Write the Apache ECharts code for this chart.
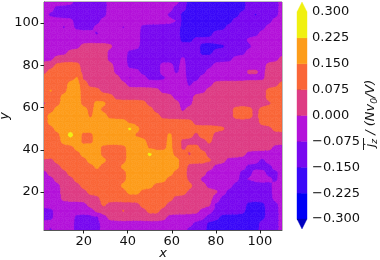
<!DOCTYPE html>
<html><head><meta charset="utf-8">
<style>html,body{margin:0;padding:0;background:#fff}#c{width:380px;height:260px}</style>
<script src="https://cdn.jsdelivr.net/npm/echarts@6/dist/echarts.min.js"></script>
</head><body><div id="c"></div>
<script>
const xs=[2,5,8,11,14,17,20,23,26,29,32,35,38,41,44,47,50,53,56,59,62,65,68,71,74,77,80,83,86,89,92,95,98,101,104,107,110];
const ys=[110,107,104,101,98,95,92,89,86,83,80,77,74,71,68,65,62,59,56,53,50,47,44,41,38,35,32,29,26,23,20,17,14,11,8,5,2];
// value read for each grid point, by colour band, one string per y
const bandValue={B:-.19,V:-.11,P:-.04,M:.04,R:.11,O:.19,Y:.29};
const bandRows=[
"PPPPPVVVVVPPPPPPPPPPPVBBBBBBBBBVVVVVP",
"PPVVVVVVVVPPPPPPPPPPVVBBBBBBBBBVVVVVP",
"PVVVVVVVVVPPPPPPPPPVVBBBBBBBBBVVBVVVP",
"PPPPPVVVVPPPPPPPPPPPPBBBBBBBBVVVVVVPP",
"PPPVPVVVPPPPVPPVVVVVVBBBBBBBVVVVVVPPP",
"PPPPPPPPVPPPPPPVVVVVVBBBBBVVVVVVVPPPP",
"PPPPPPPPPPPPPPPVVVVVVBBVVVVVVVVPPPPPP",
"PPPPPPMMMMMPPPPVVVVVVVVVBBBBVVVVPPPPP",
"PPPPMMMMMMPPPVVVVVVVVVVVBBVVVVVPPPPPP",
"PPMMMMMMMMPPPVVVVVVVVPVVVVVVVPPPPPPPM",
"MMRRRRMMMMMPPVVVVVPPVPVVVVPPPPPPPPMMM",
"MRRRRRMMMMMPPPPVVVPPVPVVVPPPPPPMMPMMM",
"RRRRROMMMMMMPVPPVVVPPPVVPPPPPPPPPPMMM",
"RRRROORMMMMMMPPPPPPPPPVPPPMMMMMMMMMMR",
"RORROORRRMMMMMMMMMPPPPPPPMMMMMMMMMRRR",
"RRROOORRRRRMMMMMMMMMPPPMMMMMMMMMMMRRR",
"MRROOORROORRRRRRMMMMMPPMMMMMMMMMMMMRR",
"RROOOOORORRRRRRRRMMMMPMMMMMMMRRRMRRRR",
"ROOOOOOROORRRRRRRRMMMMMMMMMMMRRRMRRRR",
"ROOOOOOOOOOOORRRRRRRRRRMMMMMMMMMMRRRR",
"RROOOOOOOOOOOYORRRRRRRRRRRRRMMMMMMMRR",
"RRROYORROOOOOORRRRRORRRMRRMMMMMMMMMMM",
"RRROOORROOOOOOOORRRORMMMMRMMMMMMMMMMM",
"RRRRROOOORRRROOORRRORMRRMMMMMMMMMMMPP",
"ORRRRROOORRRROOOYOOORRMRRMMMMMMPPPPPP",
"MMRRRRROOORRROOOOOOOORRRRRMMPPPPPVPPP",
"MMMRRRRRORRROOOOOOOOORMMMMPPPPPVVVVPP",
"PMMMRRRRRRRRROOOOOOORRMMMPPPPPVVPPVVP",
"PPMMMRRRRRRRROOOOOORRRMMPPPPPPVPPPPVP",
"PPPMMMRRRRRROOOOORRRRORMMPPPPVVBVVVPP",
"PPPMMMMRRRRRROORRRRRRRMMMMMPVVVVVVVPP",
"PPPMMMMMMRRRRRRRRRRRMMMMMMPVVVVVVVVPP",
"PPPPPPPMMRMMMMMRRRRMMMMMMMVVVVVBBBVVP",
"VVPPPPPPMMMMRMMMRRMMMMMMPPVVVVVBBBVVP",
"VVPPPVVVVPMMMMMMMMMPPPPPPVVBBBBBBBVVP",
"PPPPPVVVVPPPPPPPPPPPPPPVVBBBBBBBBVVVP",
"PVPPPVVVVPPPPPPPPPPPPPVVVBBBBBBBBVVVP"];
const rows=bandRows.map(r=>r.split('').map(c=>bandValue[c]));
const levels=[-.3,-.225,-.15,-.075,0,.075,.15,.225,.3];
const tickVals=[-.3,-.225,-.15,-.075,0,.075,.15,.225,.3];
const axisTicks=[20,40,60,80,100];
const colors=['#0000f6','#3a08f8','#7808f0','#b412da','#de3c84','#fa6638','#fd9c1a','#f0f010'];
const under='#0000c0',over='#f0f010';
const ext=.0288;
const mono="DejaVu Sans";
// contour surface: each corner height blends its nearest readings so band edges do not stair-step
const kernel=[[.03,.08,.03],[.08,.56,.08],[.03,.08,.03]];
const surface=rows.map((row,j)=>row.map((_,i)=>{
  let s=0;for(let dj=-1;dj<=1;dj++)for(let di=-1;di<=1;di++){
    const jj=Math.min(rows.length-1,Math.max(0,j+dj)),ii=Math.min(row.length-1,Math.max(0,i+di));
    s+=kernel[dj+1][di+1]*rows[jj][ii];}
  return s;}));
function clip(poly,lo,hi){
  const cut=(pts,f)=>{const out=[];for(let i=0;i<pts.length;i++){const a=pts[i],b=pts[(i+1)%pts.length],fa=f(a[2]),fb=f(b[2]);
    if(fa>=0) out.push(a);
    if((fa>=0)!==(fb>=0)){const t=fa/(fa-fb);out.push([a[0]+t*(b[0]-a[0]),a[1]+t*(b[1]-a[1]),a[2]+t*(b[2]-a[2])]);}}
    return out;};
  let p=cut(poly,v=>v-lo);if(p.length)p=cut(p,v=>hi-v);return p;
}
const cells=[];for(let j=0;j<ys.length-1;j++)for(let i=0;i<xs.length-1;i++)cells.push([i,j]);
const bars=[];for(let k=0;k<colors.length;k++)bars.push([levels[k],levels[k+1],colors[k]]);
const chart=echarts.init(document.getElementById('c'),null,{renderer:'canvas'});
const axisCommon={axisLine:{show:true,onZero:false,lineStyle:{color:'#555',width:1}},axisTick:{show:true,length:3.5,lineStyle:{color:'#222',width:1}},splitLine:{show:false},
  axisLabel:{fontFamily:mono,fontSize:13,color:'#111',margin:5,hideOverlap:false}};
chart.setOption({animation:false,backgroundColor:'#fff',
 grid:[{left:44,top:2,width:238,height:228,outerBoundsMode:'none',show:true,borderColor:'#777',borderWidth:1,backgroundColor:'transparent'},{left:297,top:12,width:10,height:207,outerBoundsMode:'none'}],
 xAxis:[
  {...axisCommon,type:'value',gridIndex:0,min:2,max:110,
   axisTick:{...axisCommon.axisTick,customValues:axisTicks},
   axisLabel:{...axisCommon.axisLabel,customValues:axisTicks},
   name:'x',nameLocation:'middle',nameGap:17,nameMoveOverlap:false,nameTextStyle:{fontFamily:mono,fontStyle:'italic',fontSize:13,color:'#111'}},
  {type:'value',gridIndex:1,min:0,max:1,show:false}],
 yAxis:[
  {...axisCommon,type:'value',gridIndex:0,min:2,max:110,
   axisTick:{...axisCommon.axisTick,customValues:axisTicks},
   axisLabel:{...axisCommon.axisLabel,customValues:axisTicks},
   name:'y',nameLocation:'middle',nameGap:33,nameMoveOverlap:false,nameTextStyle:{fontFamily:mono,fontStyle:'italic',fontSize:13,color:'#111'}},
  {type:'value',gridIndex:1,position:'right',min:levels[0],max:levels[8],
   axisLine:{show:false},splitLine:{show:false},
   axisTick:{show:true,length:4,lineStyle:{color:'#222',width:1},customValues:tickVals},
   axisLabel:{show:true,fontFamily:mono,fontSize:13,color:'#111',margin:5,customValues:tickVals,
     formatter:v=>(v<0?'\u2212':'')+Math.abs(v).toFixed(3)}}],
 series:[
  {type:'custom',xAxisIndex:0,yAxisIndex:0,coordinateSystem:'cartesian2d',clip:true,silent:true,data:cells,
   encode:{x:0,y:1},z:1,
   renderItem(params,api){
     const i=api.value(0),j=api.value(1),kids=[];
     const a=[xs[i],ys[j],surface[j][i]],b=[xs[i+1],ys[j],surface[j][i+1]],c=[xs[i+1],ys[j+1],surface[j+1][i+1]],d=[xs[i],ys[j+1],surface[j+1][i]];
     const m=[(a[0]+b[0])/2,(a[1]+d[1])/2,(a[2]+b[2]+c[2]+d[2])/4];
     [[a,b,m],[b,c,m],[c,d,m],[d,a,m]].forEach(tri=>{
       for(let k=0;k<colors.length;k++){
         const p=clip(tri,levels[k],levels[k+1]);
         if(p.length>2){kids.push({type:'polygon',shape:{points:p.map(q=>api.coord([q[0],q[1]]))},
           style:{fill:colors[k],stroke:colors[k],lineWidth:.6}});}
       }});
     return {type:'group',children:kids};
   }},
  {type:'custom',xAxisIndex:1,yAxisIndex:1,coordinateSystem:'cartesian2d',clip:false,silent:true,data:bars.map((b,i)=>[i]),
   encode:{y:0},
   renderItem(params,api){
     const b=bars[api.value(0)];
     const p0=api.coord([0,b[0]]),p1=api.coord([1,b[1]]);
     return {type:'rect',shape:{x:p0[0],y:p1[1],width:p1[0]-p0[0],height:p0[1]-p1[1]},style:{fill:b[2],stroke:b[2],lineWidth:.4}};
   }},
  {type:'custom',xAxisIndex:1,yAxisIndex:1,coordinateSystem:'cartesian2d',clip:false,silent:true,data:[[0],[1]],
   encode:{y:0},
   renderItem(params,api){
     const top=api.value(0)===1;
     const base=top?levels[8]:levels[0],tip=top?levels[8]+ext:levels[0]-ext;
     const pts=[[0,base],[1,base],[.5,tip]].map(q=>api.coord(q));
     const col=top?over:under;
     return {type:'polygon',shape:{points:pts},style:{fill:col,stroke:col,lineWidth:.4}};
   }}
 ],
 graphic:[
  {type:'text',x:371,y:113.5,rotation:Math.PI/2,originX:0,originY:0,silent:true,
   style:{text:'{j|j}{s|z}{t| / (Nv}{s|0}{t|/V)}',align:'center',verticalAlign:'middle',
     rich:{j:{fontFamily:mono,fontStyle:'italic',fontSize:13,fill:'#111'},
           t:{fontFamily:mono,fontStyle:'italic',fontSize:13,fill:'#111'},
           s:{fontFamily:mono,fontStyle:'italic',fontSize:9,fill:'#111',verticalAlign:'bottom',lineHeight:16}}}},
  {type:'line',silent:true,shape:{x1:363.5,y1:138,x2:363.5,y2:150},style:{stroke:'#222',lineWidth:1}}
 ]});
</script></body></html>
